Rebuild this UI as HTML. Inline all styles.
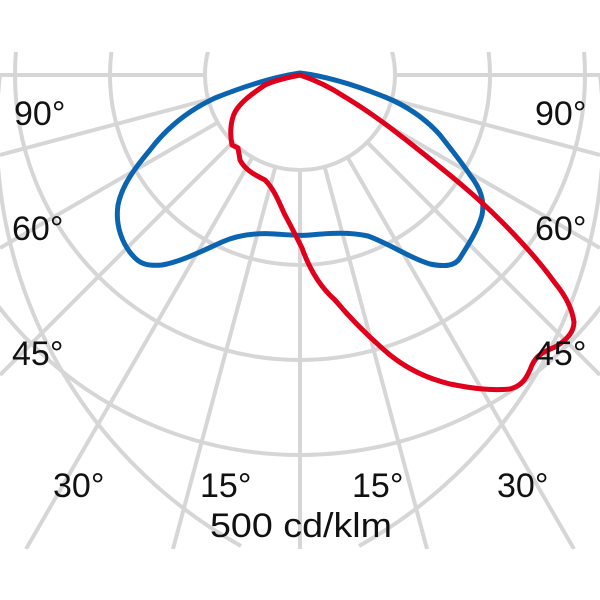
<!DOCTYPE html>
<html><head><meta charset="utf-8"><style>
html,body{margin:0;padding:0;background:#fff;width:600px;height:600px;overflow:hidden}
svg{display:block}
text{font-family:"Liberation Sans",sans-serif;font-size:34px;fill:#111}
</style></head><body>
<svg width="600" height="600" viewBox="0 0 600 600">
<defs><clipPath id="c"><rect x="0" y="52" width="600" height="497"/></clipPath></defs>
<g clip-path="url(#c)" stroke="#d6d6d6" stroke-width="4" fill="none">
<circle cx="300" cy="75" r="95"/>
<circle cx="300" cy="75" r="190"/>
<circle cx="300" cy="75" r="285"/>
<circle cx="300" cy="75" r="380"/>
<path d="M0 75H205M395 75H600"/>
<g transform="translate(300 75)">
<path d="M0 95V474"/>
<path d="M24.6 91.8L127 474M-24.6 91.8L-127 474"/>
<path d="M47.5 82.3L274 474M-47.5 82.3L-274 474"/>
<path d="M67.2 67.2L300 300M-67.2 67.2L-300 300"/>
<path d="M82.3 47.5L300 173M-82.3 47.5L-300 173"/>
<path d="M91.8 24.6L300 80M-91.8 24.6L-300 80"/>
</g>
<path d="M0 75A475 475 0 0 0 241 546M359 546A475 475 0 0 0 600 75"/>
</g>
<path fill="none" stroke="#0a64b0" stroke-width="5" stroke-linejoin="round" d="M300 73 C280 76 250 84 215 98 C185 112 165 130 150 150 C135 168 122 185 118 205 C115 225 122 245 135 258 C142 265 150 266 162 265 C180 262 200 252 222 242 C240 234 260 233 275 234 C290 235 300 236 310 235 C330 233 350 232 368 236 C390 244 410 258 430 264 C445 267 455 266 460 258 C468 245 478 230 482 215 C485 200 480 188 470 175 C460 160 450 148 440 135 C425 118 405 105 385 97 C355 85 325 76 300 73Z"/>
<path fill="none" stroke="#e0001b" stroke-width="5" stroke-linejoin="round" d="M300 75 C290 77 275 80 265 85 C250 95 240 103 235 112 C230 122 230 135 232 145 L238 148 L240 160 C245 170 255 175 265 180 C275 190 280 205 285 215 C292 228 297 238 302 248 C308 265 318 285 335 300 C350 318 370 338 390 355 C405 367 425 378 450 384 C470 388 490 391 510 389 C522 386 527 378 532 365 C536 357 540 353 555 347 C567 340 574 332 574 322 C572 308 565 295 555 283 C540 262 520 240 500 220 C475 195 450 175 425 155 C400 135 375 115 345 97 C330 87 315 80 300 75Z"/>
<text x="14" y="125">90°</text>
<text x="535" y="125">90°</text>
<text x="12" y="240">60°</text>
<text x="535" y="240">60°</text>
<text x="12" y="365">45°</text>
<text x="535" y="365">45°</text>
<text x="53" y="497">30°</text>
<text x="200" y="497">15°</text>
<text x="352" y="497">15°</text>
<text x="497" y="497">30°</text>
<text x="210" y="537" textLength="182" lengthAdjust="spacingAndGlyphs">500 cd/klm</text>
</svg>
</body></html>
